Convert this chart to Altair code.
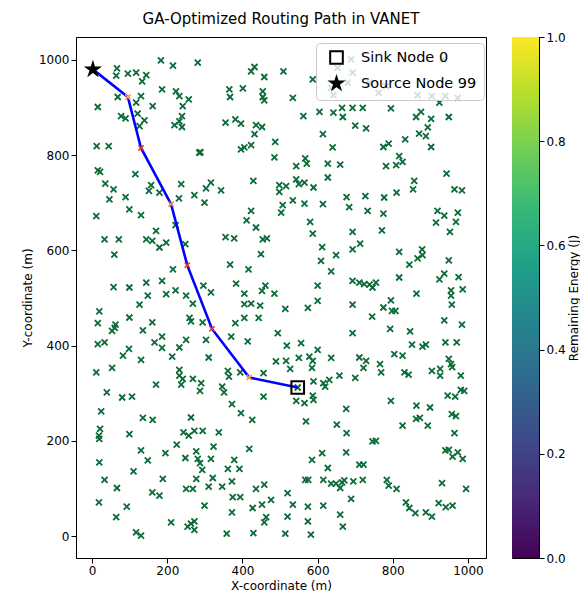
import altair as alt
import pandas as pd

# ---------------- data ----------------
node_x = [183,215,281,66,64,95,117,144,133,186,223,232,257,241,68,130,117,161,15,77,89,121,139,126,239,232,219,239,12,44,285,288,
          432,423,458,509,587,365,367,401,454,454,458,534,642,689,693,653,680,636,562,605,642,665,667,693,355,381,396,436,452,432,487,423,405,396,614,700,640,485,567,571,543,627,660,
          934,782,738,762,866,904,940,924,973,720,795,875,862,902,949,729,893,870,888,833,789,775,902,817,826,809,782,
          15,21,115,35,57,46,89,157,151,179,237,231,272,299,303,316,11,99,130,222,170,33,71,144,160,197,179,248,59,215,57,99,144,186,222,197,148,250,296,316,
          343,429,498,516,498,543,550,565,589,627,507,503,534,565,614,677,684,423,411,436,580,587,693,355,378,454,465,612,693,449,609,649,367,416,636,693,383,461,452,405,485,600,
          943,857,854,964,984,727,777,810,733,775,919,937,973,915,968,952,771,713,817,878,879,866,844,949,937,924,975,817,711,724,738,755,746,955,986,863,955,
          126,268,19,15,62,53,60,99,160,135,259,263,294,15,33,186,166,186,250,232,303,98,82,213,310,130,53,11,232,232,241,237,268,290,287,170,39,80,106,24,135,161,263,
          405,423,447,514,574,600,693,405,381,443,370,414,494,693,518,556,600,550,578,587,636,489,516,527,585,361,364,394,456,589,615,631,658,620,700,547,346,351,456,543,565,587,589,372,396,426,569,676,651,
          795,957,775,798,807,745,937,984,793,846,851,879,888,940,970,804,826,711,729,722,766,769,831,842,904,926,926,949,955,958,981,795,863,899,946,966,981,990,957,968,862,872,826,893,
          21,18,19,99,130,148,195,225,243,257,272,294,248,277,281,287,293,316,323,19,110,33,66,188,160,179,250,268,277,310,321,18,92,299,64,210,254,263,272,272,117,130,
          337,418,378,361,392,372,346,436,458,374,394,476,452,427,372,463,458,520,534,520,514,429,358,574,574,582,615,567,575,585,612,615,627,636,649,665,660,671,676,695,689,660,667,677,
          964,746,755,940,949,959,973,986,711,722,720,784,789,810,931,995,835,844,860,888,904,922,941,959]
node_y = [999,988,994,982,967,971,973,968,955,938,934,924,917,903,922,924,910,903,901,882,877,887,873,861,882,871,863,859,819,819,805,806,
          985,976,964,976,959,938,922,940,934,922,915,920,926,1001,973,983,952,941,882,891,889,899,880,899,868,875,866,863,859,844,828,821,816,812,844,862,816,795,793,782,777,782,780,
          1001,945,952,931,926,924,924,910,920,899,898,891,880,876,880,856,858,845,840,833,824,817,817,798,786,779,777,
          768,765,760,740,728,707,712,737,725,721,739,709,716,700,730,742,672,686,674,653,641,623,623,623,620,616,606,613,591,560,523,522,532,536,516,508,505,505,526,512,
          726,746,737,735,723,749,739,742,732,753,695,679,705,698,697,712,691,683,663,648,660,635,639,628,625,623,625,607,602,592,578,590,570,560,556,536,530,526,515,509,509,526,
          761,746,728,728,726,714,711,721,683,677,683,673,679,658,660,639,642,614,597,602,590,583,570,579,551,539,544,543,532,529,528,532,522,516,518,509,505,
          486,488,472,447,444,431,437,459,449,432,458,451,449,403,407,419,407,395,412,396,412,393,379,377,375,370,353,344,349,337,330,318,330,321,305,318,302,291,293,262,248,244,249,
          487,488,484,477,479,494,486,458,447,458,419,409,426,426,400,405,391,374,377,368,374,367,368,351,353,347,335,344,342,325,321,328,337,314,332,312,314,302,293,284,279,295,286,277,258,244,241,267,234,
          495,486,480,473,473,461,453,444,435,430,402,398,402,407,407,382,379,375,368,353,361,344,344,339,347,351,337,372,361,355,337,284,274,270,295,293,307,305,256,252,246,248,232,232,
          225,211,204,214,180,159,174,192,218,211,221,221,164,178,162,153,139,162,188,155,136,118,101,120,92,85,99,99,120,104,122,71,62,64,40,29,20,26,31,13,8,1,
          218,183,160,141,141,115,104,99,108,82,82,76,66,59,50,40,29,90,66,41,5,6,5,62,31,3,64,118,118,160,174,118,143,110,110,113,101,117,176,115,78,45,20,216,
          216,199,200,180,181,167,176,162,150,150,118,118,106,99,111,99,71,59,48,50,41,69,61,64]

# GA routing path (source 99 -> sink 0)
path_x = [2, 95, 130, 210, 253, 319, 418, 547]
path_y = [980, 922, 815, 697, 569, 435, 333, 312]
hop_x = [95, 130, 210, 253, 319, 418]
hop_y = [922, 815, 697, 569, 435, 333]
hop_color = ["#f5a04a", "#e8362a", "#f08a3c", "#e8362a", "#e8362a", "#f5a04a"]

special_name = ["Sink Node 0", "Source Node 99"]
special_x = [547, 2]
special_y = [312, 980]

x_ticks = [0, 200, 400, 600, 800, 1000]
y_ticks = [0, 200, 400, 600, 800, 1000]
cbar_ticks = [0.0, 0.2, 0.4, 0.6, 0.8, 1.0]
cbar_range = [0.0, 1.0]

# ---------------- styles ----------------
FONT = "DejaVu Sans"
GREEN = "#0a6b36"
XSHAPE = "M-1,-1L1,1M1,-1L-1,1"
STAR = ("M0,-1L0.2234,-0.3074L0.9511,-0.309L0.3614,0.1174L0.5878,0.809L0,0.38"
        "L-0.5878,0.809L-0.3614,0.1174L-0.9511,-0.309L-0.2234,-0.3074Z")
VIRIDIS = ["#440154", "#482878", "#3e4989", "#31688e", "#26828e",
           "#1f9e89", "#35b779", "#6ece58", "#b5de2b", "#fde725"]

nodes_df = pd.DataFrame({"x": node_x, "y": node_y})
path_df = pd.DataFrame({"x": path_x, "y": path_y, "order": list(range(len(path_x)))})
hop_df = pd.DataFrame({"x": hop_x, "y": hop_y, "c": hop_color})
special_df = pd.DataFrame({"name": special_name, "x": special_x, "y": special_y})

X = alt.X("x:Q", scale=alt.Scale(domain=[-43, 1048], nice=False, zero=False),
          axis=alt.Axis(values=x_ticks, title="X-coordinate (m)", format="d"))
Y = alt.Y("y:Q", scale=alt.Scale(domain=[-46, 1048], nice=False, zero=False),
          axis=alt.Axis(values=y_ticks, title="Y-coordinate (m)", format="d"))

nodes = alt.Chart(nodes_df).mark_point(
    shape=XSHAPE, filled=False, color=GREEN, strokeWidth=1.8, size=36, opacity=1
).encode(x=X, y=Y)

line = alt.Chart(path_df).mark_line(color="#0000ff", strokeWidth=2.6).encode(
    x=X, y=Y, order="order:Q")

hops = alt.Chart(hop_df).mark_point(
    shape=XSHAPE, filled=False, strokeWidth=1.5, size=28, opacity=1
).encode(x=X, y=Y, stroke=alt.Stroke("c:N", scale=None))

legend = alt.Legend(
    title=None, orient="none", legendX=240, legendY=6,
    fillColor="rgba(255,255,255,0.8)", strokeColor="#cccccc", cornerRadius=4,
    padding=7, labelFontSize=14.5, labelFont=FONT, symbolSize=160, symbolOffset=6,
    symbolStrokeColor="black", symbolStrokeWidth=2, rowPadding=5, labelOffset=17,
)
special = alt.Chart(special_df).mark_point(
    filled=True, strokeWidth=2, size=160, opacity=1
).encode(
    x=X, y=Y,
    shape=alt.Shape("name:N", scale=alt.Scale(domain=special_name, range=["square", STAR]), legend=legend),
    fill=alt.Fill("name:N", scale=alt.Scale(domain=special_name, range=["transparent", "black"]), legend=legend),
    stroke=alt.Stroke("name:N", scale=alt.Scale(domain=special_name, range=["black", "black"]), legend=legend),
)

main = alt.layer(nodes, line, hops, special).properties(
    width=410, height=521,
    title=alt.TitleParams("GA-Optimized Routing Path in VANET", fontSize=15,
                          fontWeight="normal", font=FONT, anchor="middle", offset=10),
)

grad = alt.Gradient(
    gradient="linear", x1=0, x2=0, y1=1, y2=0,
    stops=[alt.GradientStop(color=c, offset=i / (len(VIRIDIS) - 1)) for i, c in enumerate(VIRIDIS)],
)
cbar = alt.Chart(pd.DataFrame({"lo": [cbar_range[0]], "hi": [cbar_range[1]]})).mark_rect(
    color=grad
).encode(
    x=alt.value(0), x2=alt.value(27),
    y=alt.Y("lo:Q", scale=alt.Scale(domain=cbar_range, nice=False),
            axis=alt.Axis(orient="right", values=cbar_ticks, format=".1f",
                          title="Remaining Energy (J)", titleAngle=270,
                          titleBaseline="top", titlePadding=3)),
    y2="hi:Q",
).properties(width=27, height=521)

chart = alt.hconcat(main, cbar, spacing=24).resolve_scale(
    x="independent", y="independent", shape="independent", fill="independent", stroke="independent"
).properties(
    padding={"left": 12, "top": 3, "right": 0, "bottom": 0}
).configure(font=FONT).configure_view(
    stroke="black", strokeWidth=1
).configure_axis(
    grid=False, labelFontSize=12, titleFontSize=12, titleFontWeight="normal",
    labelColor="black", titleColor="black", tickColor="black", domainColor="black",
    tickSize=5, labelFont=FONT, titleFont=FONT, domain=True,
)

chart.save("out.html", embed_options={"renderer": "svg", "actions": False})
